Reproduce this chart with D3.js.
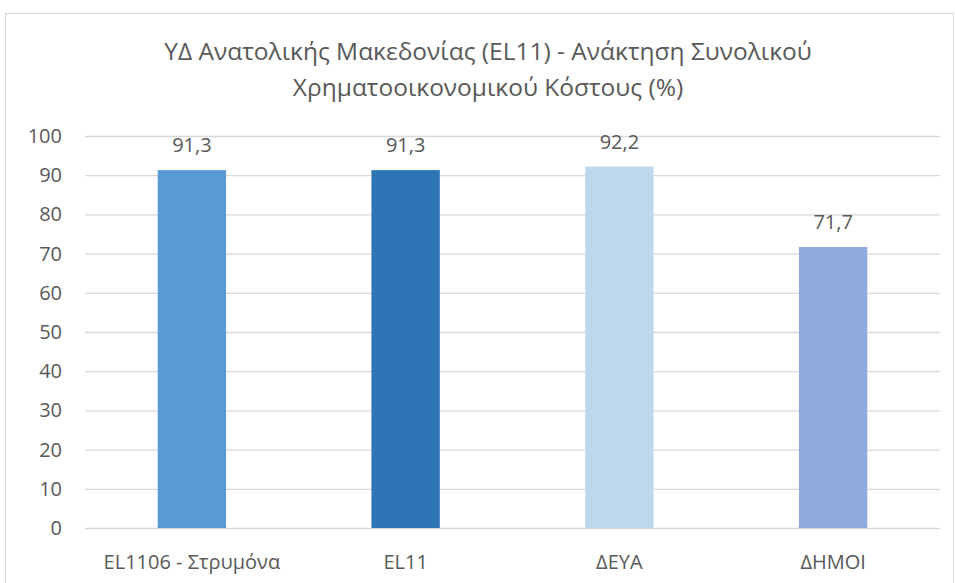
<!DOCTYPE html>
<html>
<head>
<meta charset="utf-8">
<script src="https://cdn.jsdelivr.net/npm/d3@7"></script>
<style>
  body { margin: 0; background: #fff; }
  svg text { fill: #595959; }
</style>
</head>
<body>
<div id="chart"></div>
<script>
var categories = ["EL1106 - Στρυμόνα", "EL11", "ΔΕΥΑ", "ΔΗΜΟΙ"];
var values = [91.3, 91.3, 92.2, 71.7];
var barColors = ["#5B9BD5", "#2E75B6", "#BDD7EE", "#8FAADC"];
var yTicks = [0, 10, 20, 30, 40, 50, 60, 70, 80, 90, 100];
var titleLines = ["ΥΔ Ανατολικής Μακεδονίας (EL11) - Ανάκτηση Συνολικού", "Χρηματοοικονομικού Κόστους (%)"];

var W = 955, H = 583;
var margin = {top: 136, right: 15, bottom: 55, left: 85};
var fontFam = '"Open Sans", sans-serif';

var svg = d3.select('#chart').append('svg')
    .attr('width', W)
    .attr('height', H);

// chart frame
svg.append('rect')
    .attr('x', 5.5).attr('y', 13.5)
    .attr('width', W - 7).attr('height', H)
    .attr('fill', '#fff')
    .attr('stroke', '#d9d9d9');

var xScale = d3.scaleBand().domain(categories).range([margin.left, W - margin.right]).paddingInner(0.68).paddingOuter(0.34);
var yScale = d3.scaleLinear().domain([0, 100]).range([528, margin.top]);

// title
svg.append('g').selectAll('text')
    .data(titleLines)
    .enter()
    .append('text')
    .attr('x', 488)
    .attr('y', function(d, i){ return 60 + i * 36; })
    .attr('text-anchor', 'middle')
    .style('font-family', fontFam)
    .style('font-size', '24.5px')
    .text(function(d){ return d; });

// gridlines + y labels
var yAxis = d3.axisLeft(yScale).tickValues(yTicks).tickSize(-(W - margin.right - margin.left)).tickPadding(23);
var gy = svg.append('g')
    .attr('transform', 'translate(' + margin.left + ',0)')
    .call(yAxis);
gy.select('.domain').remove();
gy.selectAll('.tick line').attr('stroke', '#d9d9d9').attr('stroke-width', 1.3);
gy.selectAll('.tick text')
    .style('font-family', fontFam)
    .style('font-size', '20px')
    .attr('fill', '#595959');

// bars
svg.append('g').selectAll('rect')
    .data(values)
    .enter()
    .append('rect')
    .attr('x', function(d, i){ return xScale(categories[i]); })
    .attr('y', function(d){ return yScale(d); })
    .attr('width', xScale.bandwidth())
    .attr('height', function(d){ return yScale(0) - yScale(d); })
    .attr('fill', function(d, i){ return barColors[i]; });

// data labels
svg.append('g').selectAll('text')
    .data(values)
    .enter()
    .append('text')
    .attr('x', function(d, i){ return xScale(categories[i]) + xScale.bandwidth() / 2; })
    .attr('y', function(d){ return yScale(d) - 18; })
    .attr('text-anchor', 'middle')
    .style('font-family', fontFam)
    .style('font-size', '20px')
    .text(function(d){ return d.toFixed(1).replace('.', ','); });

// x labels
var xAxis = d3.axisBottom(xScale).tickSize(0).tickPadding(27);
var gx = svg.append('g')
    .attr('transform', 'translate(0,' + yScale(0) + ')')
    .call(xAxis);
gx.select('.domain').remove();
gx.selectAll('.tick text')
    .style('font-family', fontFam)
    .style('font-size', '20px')
    .attr('fill', '#595959');
</script>
</body>
</html>
